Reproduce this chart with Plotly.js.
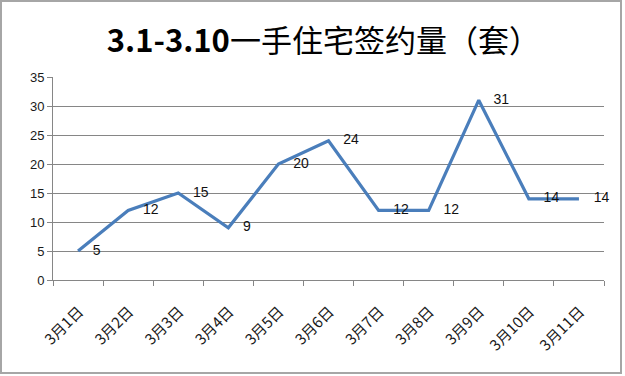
<!DOCTYPE html>
<html>
<head>
<meta charset="utf-8">
<script src="https://cdn.plot.ly/plotly-3.0.1.min.js"></script>
<style>
html,body{margin:0;padding:0;background:#fff;}
#wrap{position:absolute;left:0;top:0;width:622px;height:374px;box-sizing:border-box;border:2px solid #a6a6a6;background:#fff;}
#chart{width:618px;height:370px;}
</style>
</head>
<body>
<div id="wrap"><div id="chart"></div></div>
<script>
var categories = ["3月1日","3月2日","3月3日","3月4日","3月5日","3月6日","3月7日","3月8日","3月9日","3月10日","3月11日"];
var values = [5, 12, 15, 9, 20, 24, 12, 12, 31, 14, 14];
var yTicks = [0, 5, 10, 15, 20, 25, 30, 35];
var titleText = "<b>3.1-3.10</b>一手住宅签约量（套）";

var trace = {
  x: categories,
  y: values,
  type: "scatter",
  mode: "lines+markers+text",
  line: {color: "#4a7ebb", width: 3.2},
  marker: {size: 22, opacity: 0, color: "#4a7ebb"},
  text: values.map(String),
  textposition: "middle right",
  textfont: {family: "Liberation Sans, Noto Sans, sans-serif", size: 14, color: "#111111"},
  cliponaxis: false,
  hoverinfo: "skip"
};

var layout = {
  width: 618,
  height: 370,
  margin: {l: 51, r: 16, t: 75, b: 92},
  paper_bgcolor: "#ffffff",
  plot_bgcolor: "#ffffff",
  showlegend: false,
  title: {
    text: titleText,
    font: {family: "Noto Sans CJK SC, sans-serif", size: 31, color: "#000000"},
    x: 0.52, xanchor: "center",
    y: 0.895, yanchor: "middle"
  },
  xaxis: {
    type: "category",
    range: [-0.5, 10.5],
    tickson: "boundaries",
    ticks: "outside",
    ticklen: 5,
    tickcolor: "#868686",
    showline: true,
    linecolor: "#868686",
    linewidth: 1,
    showgrid: false,
    tickangle: -45,
    ticklabelshift: 1,
    ticklabelstandoff: 16,
    tickfont: {family: "Noto Sans CJK SC, sans-serif", size: 15, color: "#1a1a1a"},
    fixedrange: true
  },
  yaxis: {
    range: [0, 35],
    tickvals: yTicks,
    ticktext: yTicks.map(String),
    ticks: "outside",
    ticklen: 5,
    tickcolor: "#868686",
    showline: true,
    linecolor: "#868686",
    linewidth: 1,
    showgrid: true,
    gridcolor: "#868686",
    gridwidth: 1,
    zeroline: false,
    tickfont: {family: "Liberation Sans, Noto Sans, sans-serif", size: 13, color: "#1a1a1a"},
    fixedrange: true
  }
};

Plotly.newPlot("chart", [trace], layout, {displayModeBar: false, staticPlot: true});
</script>
</body>
</html>
